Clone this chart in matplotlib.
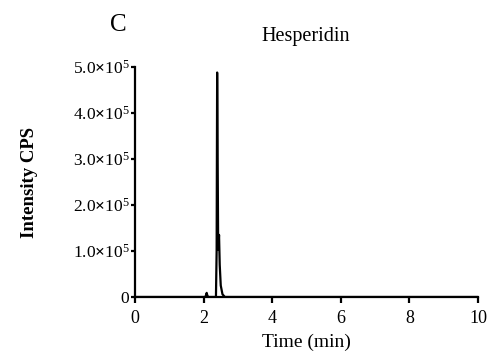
import matplotlib
matplotlib.use("Agg")
import matplotlib.pyplot as plt

plt.rcParams['font.family'] = ['Liberation Serif', 'DejaVu Serif']
plt.rcParams['mathtext.fontset'] = 'custom'
plt.rcParams['mathtext.rm'] = 'Liberation Serif'
plt.rcParams['mathtext.it'] = 'Liberation Serif:italic'
plt.rcParams['mathtext.bf'] = 'Liberation Serif:bold'

time_min = [0.0, 1.0, 2.0, 2.05, 2.07, 2.09, 2.11, 2.14, 2.30, 2.36, 2.38, 2.395, 2.41, 2.425, 2.44, 2.45, 2.47, 2.50, 2.55, 2.62, 3.0, 5.0, 10.0]
intensity = [0, 0, 0, 0, 4000, 9000, 3000, 0, 0, 0, 100000, 488000, 300000, 103000, 120000, 135000, 70000, 25000, 6000, 0, 0, 0, 0]

yticks = [0, 1e5, 2e5, 3e5, 4e5, 5e5]
ytick_labels = ['0', r'1.0$\mathbf{\times}$10$^5$', r'2.0$\mathbf{\times}$10$^5$', r'3.0$\mathbf{\times}$10$^5$',
                r'4.0$\mathbf{\times}$10$^5$', r'5.0$\mathbf{\times}$10$^5$']
xticks = [0, 2, 4, 6, 8, 10]

fig = plt.figure(figsize=(4.92, 3.56), dpi=100)
ax = fig.add_axes([135/492, 1-297/356, (478-135)/492, (297-67)/356])
ax.plot(time_min, intensity, color='black', lw=1.6)
ax.set_xlim(0, 10)
ax.set_ylim(0, 5e5)
ax.set_xticks(xticks)
ax.set_xticklabels([str(x) for x in xticks], fontsize=13)
ax.set_yticks(yticks)
ax.set_yticklabels(ytick_labels, fontsize=12.5)
for s in ['top', 'right']:
    ax.spines[s].set_visible(False)
for s in ['left', 'bottom']:
    ax.spines[s].set_linewidth(1.6)
ax.tick_params(axis='x', width=1.6, length=4.5, direction='out', pad=5)
ax.tick_params(axis='y', width=1.6, length=3, direction='out', pad=1)
ax.set_xlabel('Time (min)', fontsize=14)
ax.set_ylabel('Intensity CPS', fontsize=13.5, fontweight='bold')
ax.yaxis.set_label_coords((30-135)/343, 0.5)
ax.xaxis.set_label_coords(0.5, -(342-297)/230)
ax.xaxis.label.set_va('center')
ax.yaxis.label.set_va('center')
fig.text(306/492, 1-41/356, 'Hesperidin', ha='center', va='baseline', fontsize=14.5)
fig.text(118/492, 1-31/356, 'C', ha='center', va='baseline', fontsize=18)
fig.savefig('out.png', dpi=100)
